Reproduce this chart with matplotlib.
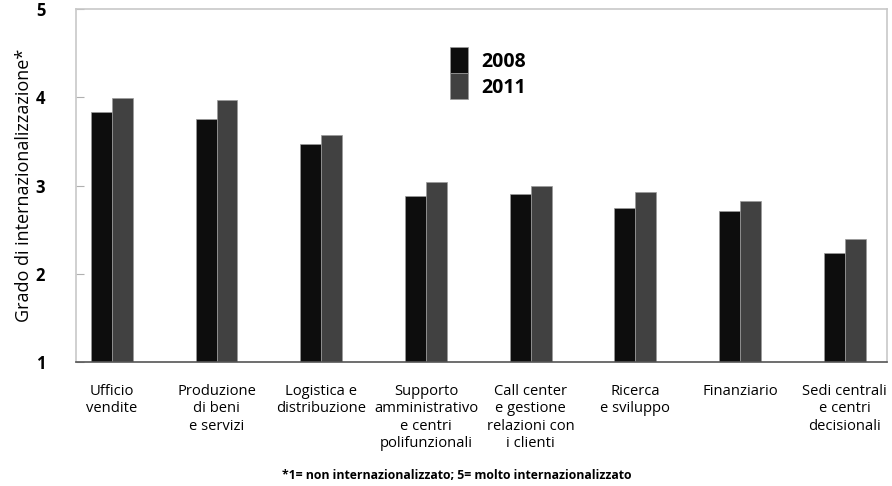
import numpy as np
import matplotlib.pyplot as plt
from matplotlib.patches import Patch

categories = [
    "Ufficio\nvendite",
    "Produzione\ndi beni\ne servizi",
    "Logistica e\ndistribuzione",
    "Supporto\namministrativo\ne centri\npolifunzionali",
    "Call center\ne gestione\nrelazioni con\ni clienti",
    "Ricerca\ne sviluppo",
    "Finanziario",
    "Sedi centrali\ne centri\ndecisionali",
]
values_2008 = [3.83, 3.76, 3.47, 2.88, 2.90, 2.75, 2.71, 2.24]
values_2011 = [3.99, 3.97, 3.57, 3.04, 3.00, 2.93, 2.83, 2.40]
series_labels = ["2008", "2011"]
yticks = [1, 2, 3, 4, 5]

plt.rcParams['font.family'] = ['Open Sans', 'DejaVu Sans']

fig = plt.figure(figsize=(8.92, 4.86), dpi=100)
ax = fig.add_axes([0.085, 0.255, 0.909, 0.726])

x = np.arange(len(categories))
w = 0.2
base = 1  # the y axis starts at 1, bars grow from there
ax.bar(x - w / 2, np.array(values_2008) - base, w, bottom=base, color='#0d0d0d',
       edgecolor='#9a9a9a', linewidth=0.5)
ax.bar(x + w / 2, np.array(values_2011) - base, w, bottom=base, color='#414141',
       edgecolor='#9a9a9a', linewidth=0.5)

ax.set_xlim(-0.344, 7.40)
ax.set_ylim(1, 5)
ax.set_yticks(yticks)
ax.set_yticklabels([str(t) for t in yticks], fontsize=12, fontweight='bold')
ax.tick_params(axis='y', direction='in', length=6, color='#b0b0b0', pad=22)
ax.set_xticks(x)
ax.set_xticklabels(categories, fontsize=10.6, linespacing=1.2)
ax.tick_params(axis='x', length=0, pad=16)

for side in ['left', 'top', 'right']:
    ax.spines[side].set_color('#c8c8c8')
    ax.spines[side].set_linewidth(1.2)
ax.spines['bottom'].set_color('#555555')
ax.spines['bottom'].set_linewidth(1.2)

ax.set_ylabel("Grado di internazionalizzazione*", fontsize=13)
ax.yaxis.set_label_coords(-0.053, 0.5)

handles = [Patch(facecolor='#0d0d0d', edgecolor='#9a9a9a', linewidth=0.5),
           Patch(facecolor='#414141', edgecolor='#9a9a9a', linewidth=0.5)]
leg = ax.legend(handles, series_labels, loc='upper left',
                bbox_to_anchor=(0.461, 0.892), frameon=False,
                prop={'weight': 'bold', 'size': 14},
                handlelength=0.93, handleheight=1.685, labelspacing=0.0,
                handletextpad=0.72, borderpad=0, borderaxespad=0)

fig.text(0.512, 0.021, "*1= non internazionalizzato; 5= molto internazionalizzato",
         ha='center', va='center', fontsize=8.8, fontweight='bold')

fig.savefig("out.png", dpi=100)
